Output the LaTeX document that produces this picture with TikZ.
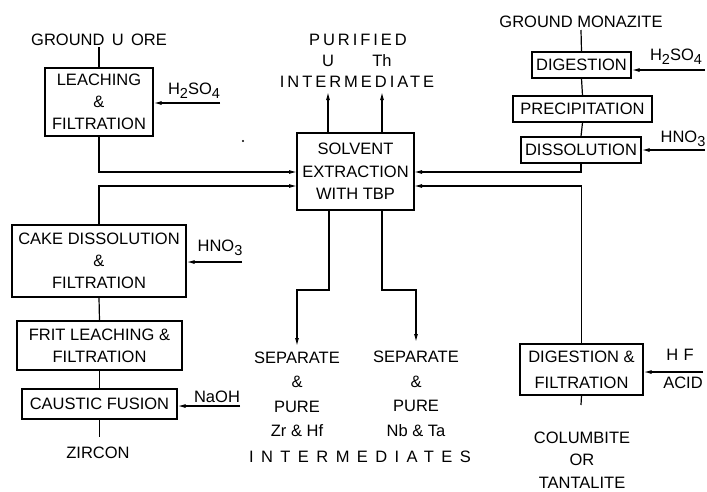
\documentclass[tikz,border=0pt]{standalone}
\usepackage{fontspec}
\setmainfont{Liberation Sans}
\newfontfamily\spacedA[LetterSpace=18]{Liberation Sans}
\newfontfamily\spacedB[LetterSpace=45]{Liberation Sans}
\usetikzlibrary{arrows.meta}
\newcommand\lbl{\fontsize{16.5}{22}\selectfont}
\newcommand\low[1]{\raisebox{-4pt}{\fontsize{14.5}{14.5}\selectfont #1}}
\begin{document}
\begin{tikzpicture}[x=1pt,y=-1pt,line width=1.2pt,
  box/.style={draw,rectangle,inner sep=0pt,align=center,font=\lbl},
  txt/.style={inner sep=0pt,align=center,font=\lbl},
  arr/.style={-{Latex[length=8pt,width=4pt]}}]
\fill[white] (0,0) rectangle (707,491);
\useasboundingbox (0,0) rectangle (707,491);
% boxes
\node[box,minimum width=108pt,minimum height=68pt] (leach) at (99,102) {LEACHING\\\&\\FILTRATION};
\node[box,minimum width=117pt,minimum height=77pt,font=\fontsize{16.5}{22.5}\selectfont] (se) at (355.5,171.5) {SOLVENT\\EXTRACTION\\WITH TBP};
\node[box,minimum width=99pt,minimum height=26pt] (dig) at (581.5,65) {DIGESTION};
\node[box,minimum width=139pt,minimum height=26pt] (prec) at (582.5,109) {PRECIPITATION};
\node[box,minimum width=120pt,minimum height=26pt] (diss) at (581,150) {DISSOLUTION};
\node[box,minimum width=123pt,minimum height=51pt,font=\fontsize{16.5}{26}\selectfont] (df) at (581.5,369.5) {DIGESTION \&\\FILTRATION};
\node[box,minimum width=174pt,minimum height=72pt] (cake) at (99,261) {CAKE DISSOLUTION\\\&\\FILTRATION};
\node[box,minimum width=165pt,minimum height=49pt] (frit) at (99.5,345.5) {FRIT LEACHING \&\\FILTRATION};
\node[box,minimum width=155pt,minimum height=30pt] (caus) at (99.5,404) {CAUSTIC FUSION};
% texts
\node[txt] (gore) at (99,40) {GROUND\, U\, ORE};
\node[txt] (gmon) at (581,22) {GROUND MONAZITE};
\node[txt,font=\lbl\spacedA] (pur) at (358,40) {PURIFIED};
\node[txt] (pu) at (328,61) {U};
\node[txt] (pth) at (382,61) {Th};
\node[txt,font=\lbl\spacedA] (pint) at (357,82) {INTERMEDIATE};
\node[txt] (zircon) at (98,453) {ZIRCON};
\node[txt,font=\fontsize{16.5}{22.5}\selectfont] (colum) at (582,460) {COLUMBITE\\OR\\TANTALITE};
\node[txt,font=\fontsize{16.5}{24.5}\selectfont] (sepzr) at (297,394.5) {SEPARATE\\\&\\PURE\\Zr \& Hf};
\node[txt,font=\fontsize{16.5}{24.5}\selectfont] (sepnb) at (416,394) {SEPARATE\\\&\\PURE\\Nb \& Ta};
\node[txt,font=\lbl\spacedB] (inters) at (360,457) {INTERMEDIATES};
\node[txt] (hsoA) at (194,91) {H\low{2}SO\low{4}};
\node[txt] (hsoB) at (676,57) {H\low{2}SO\low{4}};
\node[txt] (hnoB) at (683,139) {HNO\low{3}};
\node[txt] (hnoA) at (220,248) {HNO\low{3}};
\node[txt] (naoh) at (217,397) {NaOH};
\node[txt] (hf) at (680,355) {H\,\,F};
\node[txt] (acid) at (683,383) {ACID};
% coordinates
\coordinate (goreE) at (99,47);
\coordinate (gmonE) at (581,30);
\coordinate (zirE) at (99.5,437);
\coordinate (colE) at (581,405);
\coordinate (seL1) at (297,172);
\coordinate (seL2) at (297,186);
\coordinate (seR1) at (414,172);
\coordinate (seR2) at (414,186);
\coordinate (seT1) at (328,133);
\coordinate (seT2) at (382,133);
\coordinate (puE) at (328,92);
\coordinate (pthE) at (382,92);
\coordinate (seB1) at (329,210);
\coordinate (seB2) at (382,210);
\coordinate (zrT) at (329,290);
\coordinate (nbT) at (382,290);
\coordinate (zrE) at (297,346);
\coordinate (nbE) at (416,342);
\coordinate (sA) at (220,103);
\coordinate (sB) at (705,70);
\coordinate (nB) at (705,150);
\coordinate (nA) at (242,262);
\coordinate (nO) at (240,406);
\coordinate (hA) at (703,372);
% connectors
\draw (goreE) -- (leach.north);
\draw (gmonE) -- (dig.north);
\draw (dig.south) -- (prec.north);
\draw (prec.south) -- (diss.north);
\draw (cake.south) -- (frit.north);
\draw (frit.south) -- (caus.north);
\draw (caus.south) -- (zirE);
\draw (df.south) -- (colE);
\draw[arr] (leach.south) |- (seL1);
\draw[arr] (cake.north) |- (seL2);
\draw[arr] (diss.south) |- (seR1);
\draw[arr] (df.north) |- (seR2);
\draw[arr] (seT1) -- (puE);
\draw[arr] (seT2) -- (pthE);
\draw[arr] (seB1) -- (zrT) -| (zrE);
\draw[arr] (seB2) -- (nbT) -| (nbE);
\draw[arr] (sA) -- (sA -| leach.east);
\draw[arr] (sB) -- (sB -| dig.east);
\draw[arr] (nB) -- (nB -| diss.east);
\draw[arr] (nA) -- (nA -| cake.east);
\draw[arr] (nO) -- (nO -| caus.east);
\draw[arr] (hA) -- (hA -| df.east);
\fill (243,141) circle (1.2pt);
\end{tikzpicture}
\end{document}
